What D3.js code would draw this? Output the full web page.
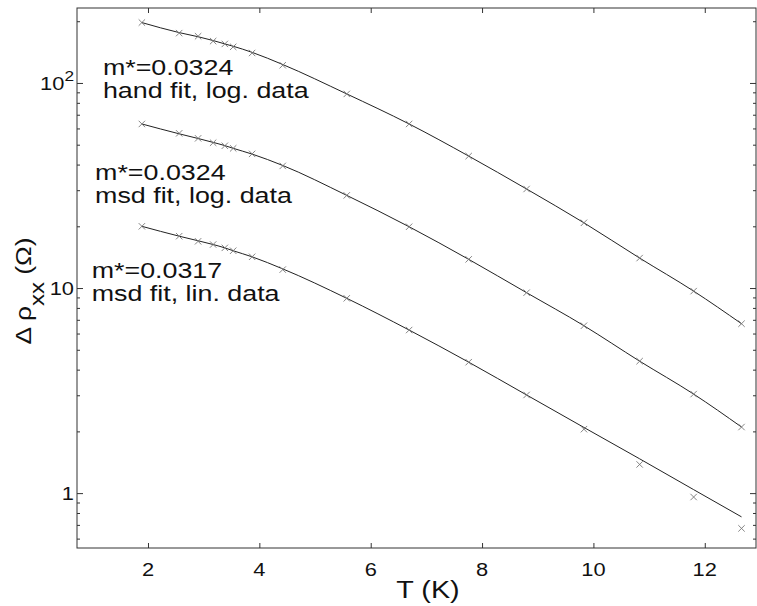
<!DOCTYPE html>
<html>
<head>
<meta charset="utf-8">
<script src="https://cdn.jsdelivr.net/npm/d3@7"></script>
<style>
  body { margin: 0; background: #fff; }
  svg { font-family: "Liberation Sans", Arial, sans-serif; }
  .axis path, .axis line { stroke: #333; stroke-width: 1; }
  .fit { fill: none; stroke: #222; stroke-width: 1; }
  .mark { stroke: #777; stroke-width: 0.9; }
</style>
</head>
<body>
<div id="chart"></div>
<script>
// temperatures (K)
const temps = [1.89, 2.56, 2.90, 3.17, 3.38, 3.53, 3.87, 4.42, 5.57, 6.69, 7.76, 8.80, 9.83, 10.83, 11.80, 12.66];

// measured delta rho_xx (Ohm)
const dataHand = [197, 175, 169, 160, 155, 150, 140, 122, 88.4, 63.1, 44.0, 30.4, 20.8, 14.0, 9.66, 6.70];
const dataMsdLog = [63.1, 56.8, 53.7, 51.1, 49.4, 48.0, 45.1, 39.4, 28.3, 19.9, 13.8, 9.49, 6.55, 4.40, 3.04, 2.10];
const dataMsdLin = [20.0, 17.9, 16.9, 16.3, 15.7, 15.2, 14.2, 12.3, 8.91, 6.24, 4.35, 3.01, 2.05, 1.38, 0.957, 0.673];

// fitted curves
const fitHand = [197, 176, 168, 161, 155, 151, 141, 123, 88.4, 63.1, 44.0, 30.4, 20.8, 14.0, 9.66, 6.70];
const fitMsdLog = [63.1, 56.5, 53.6, 51.3, 49.5, 48.0, 45.0, 39.6, 28.3, 19.9, 13.8, 9.49, 6.55, 4.40, 3.04, 2.10];
const fitMsdLin = [20.0, 17.9, 17.0, 16.3, 15.7, 15.2, 14.2, 12.4, 8.91, 6.24, 4.35, 3.01, 2.09, 1.47, 1.04, 0.766];

const xTicks = [2, 4, 6, 8, 10, 12];
const yMajor = [1, 10, 100];
const yLabels = [["1", ""], ["10", ""], ["10", "2"]];

const annotations = [
    { lines: ["m*=0.0324", "hand fit, log. data"], x: 1.19, y: 75 },
    { lines: ["m*=0.0324", "msd fit, log. data"], x: 1.05, y: 180 },
    { lines: ["m*=0.0317", "msd fit, lin. data"], x: 0.99, y: 278 }
];

const W = 757, H = 606;
const margin = { left: 77, right: 756, top: 8, bottom: 548 };
const stretch = 1.22;   // glyphs in the original are wider than tall

const svg = d3.select("#chart").append("svg")
    .attr("width", W)
    .attr("height", H);

const x = d3.scaleLinear()
    .domain([0.725, 12.92])
    .range([margin.left, margin.right]);

const y = d3.scaleLog()
    .domain([0.54, 232])
    .range([margin.bottom, margin.top]);

// minor ticks on log axis
let yMinor = [];
[0.1, 1, 10, 100].forEach(function(dec) {
    d3.range(2, 10).forEach(function(k) {
        let v = dec * k;
        if (v >= 0.54 && v <= 232) yMinor.push(v);
    });
});

// box axes
svg.append("g").attr("class", "axis")
    .attr("transform", "translate(0," + margin.bottom + ")")
    .call(d3.axisBottom(x).tickValues(xTicks).tickSizeInner(-5).tickSizeOuter(0).tickFormat(""));
svg.append("g").attr("class", "axis")
    .attr("transform", "translate(0," + margin.top + ")")
    .call(d3.axisTop(x).tickValues(xTicks).tickSizeInner(-5).tickSizeOuter(0).tickFormat(""));
svg.append("g").attr("class", "axis")
    .attr("transform", "translate(" + margin.left + ",0)")
    .call(d3.axisLeft(y).tickValues(yMajor).tickSizeInner(-6).tickSizeOuter(0).tickFormat(""));
svg.append("g").attr("class", "axis")
    .attr("transform", "translate(" + margin.left + ",0)")
    .call(d3.axisLeft(y).tickValues(yMinor).tickSizeInner(-3).tickSizeOuter(0).tickFormat(""));
svg.append("g").attr("class", "axis")
    .attr("transform", "translate(" + margin.right + ",0)")
    .call(d3.axisRight(y).tickValues(yMajor).tickSizeInner(-6).tickSizeOuter(0).tickFormat(""));
svg.append("g").attr("class", "axis")
    .attr("transform", "translate(" + margin.right + ",0)")
    .call(d3.axisRight(y).tickValues(yMinor).tickSizeInner(-3).tickSizeOuter(0).tickFormat(""));

svg.selectAll(".axis .domain").remove();
svg.append("rect")
    .attr("x", margin.left).attr("y", margin.top)
    .attr("width", margin.right - margin.left).attr("height", margin.bottom - margin.top)
    .attr("fill", "none").attr("stroke", "#333").attr("stroke-width", 1);

// tick labels
svg.append("g").selectAll("text")
    .data(xTicks)
    .join("text")
    .attr("transform", d => "translate(" + x(d) + "," + (margin.bottom + 28) + ") scale(1.15,1)")
    .attr("text-anchor", "middle")
    .attr("font-size", 19)
    .attr("fill", "#111")
    .text(d => d);

const yl = svg.append("g").selectAll("text")
    .data(yMajor)
    .join("text")
    .attr("transform", d => "translate(74," + (y(d) + 7) + ") scale(1.15,1)")
    .attr("text-anchor", "end")
    .attr("font-size", 19)
    .attr("fill", "#111");
yl.append("tspan").text((d, i) => yLabels[i][0]);
yl.append("tspan")
    .attr("dy", -9)
    .attr("font-size", 15)
    .text((d, i) => yLabels[i][1]);

// axis titles
svg.append("text")
    .attr("transform", "translate(428,598) scale(1.25,1)")
    .attr("text-anchor", "middle")
    .attr("font-size", 23)
    .attr("fill", "#111")
    .text("T (K)");

const yt = svg.append("text")
    .attr("transform", "translate(31,291) rotate(-90) scale(1.2,1)")
    .attr("text-anchor", "middle")
    .attr("font-size", 22)
    .attr("fill", "#111");
yt.append("tspan").text("\u0394 \u03c1");
yt.append("tspan").attr("dy", 13).attr("font-size", 20).text("xx");
yt.append("tspan").attr("dy", -13).text(" (\u03a9)");

// fitted lines and data markers
const line = d3.line()
    .curve(d3.curveMonotoneX)
    .x((d, i) => x(temps[i]))
    .y(d => y(d));

const fits = [fitHand, fitMsdLog, fitMsdLin];
const datas = [dataHand, dataMsdLog, dataMsdLin];

svg.append("g").selectAll("path")
    .data(fits)
    .join("path")
    .attr("class", "fit")
    .attr("d", line);

const s = 3.2;
datas.forEach(function(series) {
    let g = svg.append("g");
    series.forEach(function(v, i) {
        let cx = x(temps[i]), cy = y(v);
        g.append("line").attr("class", "mark")
            .attr("x1", cx - s).attr("y1", cy - s).attr("x2", cx + s).attr("y2", cy + s);
        g.append("line").attr("class", "mark")
            .attr("x1", cx - s).attr("y1", cy + s).attr("x2", cx + s).attr("y2", cy - s);
    });
});

// annotations
annotations.forEach(function(a) {
    a.lines.forEach(function(l, i) {
        svg.append("text")
            .attr("transform", "translate(" + x(a.x) + "," + (a.y + i * 23) + ") scale(" + stretch + ",1)")
            .attr("font-size", 22)
            .attr("fill", "#111")
            .text(l);
    });
});
</script>
</body>
</html>
